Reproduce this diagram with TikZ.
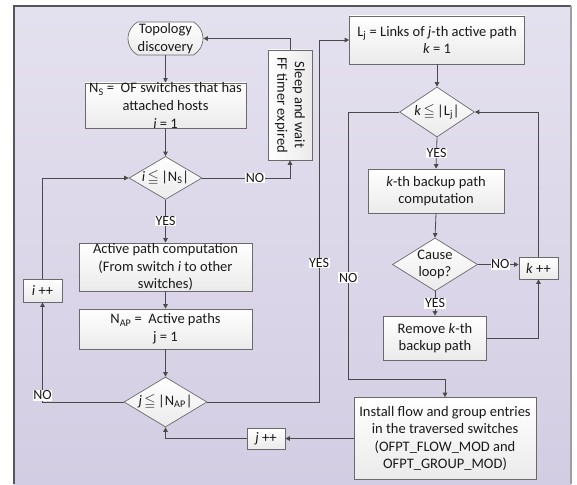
\documentclass[tikz,border=0pt]{standalone}
\usepackage{amssymb}
\usepackage{fontspec}
\setmainfont{Carlito}
\usetikzlibrary{arrows.meta,shapes.geometric,shapes.misc}
\definecolor{bgtop}{HTML}{E4E1EF}
\definecolor{bgbot}{HTML}{D3CDE3}
\definecolor{frameedge}{HTML}{55555C}
\definecolor{boxedge}{HTML}{6A6A6A}
\definecolor{wire}{HTML}{4A4A4A}
\definecolor{ink}{HTML}{1A1A1A}
\newcommand{\lesseq}{\,$\leqq$\,}
\begin{document}
\begin{tikzpicture}[x=1pt,y=-1pt,
  font=\fontsize{14.5}{17.6}\selectfont, text=ink,
  box/.style={draw=boxedge, line width=0.7pt, top color=white, bottom color=black!8,
    align=center, inner sep=0pt},
  dia/.style={diamond, draw=boxedge, line width=0.7pt, top color=white, bottom color=black!8,
    align=center, inner sep=0pt},
  arr/.style={draw=wire, line width=0.8pt, -{Triangle[length=4.5pt,width=4.5pt]}},
  lbl/.style={fill=white, inner sep=0.6pt, text=ink, font=\fontsize{14}{16}\selectfont}]
\useasboundingbox (0,0) rectangle (577,484);
% backdrop panel
\shade[top color=bgtop, bottom color=bgbot] (14,6) rectangle (571,484);
\draw[frameedge, line width=1.2pt] (14,484) -- (14,6) -- (571,6);
\draw[black!38, line width=1.6pt] (571,6) -- (571,484);

% left column
\node[rounded rectangle, rounded rectangle arc length=120, draw=boxedge, line width=0.7pt,
  top color=white, bottom color=black!8, align=center, inner ysep=0pt, inner xsep=-1pt,
  minimum width=73pt, minimum height=33pt]
  (topo) at (165.5,38.5) {Topology\\discovery};
\node[box, minimum width=161pt, minimum height=45pt] (ns) at (165.5,105.5)
  {N\textsubscript{S} =\ \ OF switches that has\\attached hosts\\\textit{i} = 1};
\node[dia, minimum width=73pt, minimum height=43pt, aspect=1.7] (di) at (165.5,178)
  {\textit{i}\lesseq|N\textsubscript{S}|};
\node[box, minimum width=173pt, minimum height=48pt] (act) at (165.5,267)
  {Active path computation\\(From switch \textit{i} to other\\switches)};
\node[box, minimum width=173pt, minimum height=40pt] (nap) at (165.5,329)
  {N\textsubscript{AP} =\ \ Active paths\\j = 1};
\node[dia, minimum width=83pt, minimum height=50pt, aspect=1.66] (dj) at (165.5,402)
  {\textit{j}\lesseq|N\textsubscript{AP}|};
\node[box, minimum width=39pt, minimum height=23pt] (ipp) at (42.5,290.5) {\textit{i} ++};
\node[box, minimum width=38pt, minimum height=21pt] (jpp) at (266,438.5) {\textit{j} ++};
\node[draw=boxedge, line width=0.7pt, left color=white, right color=black!8, align=center,
  inner sep=0pt, rotate=-90, minimum width=110pt, minimum height=44pt]
  (sleep) at (290,105) {Sleep and wait\\FF timer expired};

% right column
\node[box, minimum width=175pt, minimum height=48pt] (lj) at (437,40)
  {L\textsubscript{j} = Links of \textit{j}-th active path\\\textit{k} = 1};
\node[dia, minimum width=75pt, minimum height=50pt, aspect=1.5] (dk) at (437,112)
  {\textit{k}\lesseq|L\textsubscript{j}|};
\node[box, minimum width=136pt, minimum height=44pt] (kb) at (436,191)
  {\textit{k}-th backup path\\computation};
\node[dia, minimum width=85pt, minimum height=53pt, aspect=1.6] (dc) at (435,264.5)
  {Cause\\loop?};
\node[box, minimum width=39pt, minimum height=22pt] (kpp) at (538.5,268) {\textit{k} ++};
\node[box, minimum width=103pt, minimum height=44pt] (rm) at (435,338)
  {Remove \textit{k}-th\\backup path};
\node[box, minimum width=182pt, minimum height=82pt] (inst) at (445,438.5)
  {Install flow and group entries\\in the traversed switches\\(OFPT\_FLOW\_MOD and\\OFPT\_GROUP\_MOD)};

% connectors, left column
\draw[arr] (topo.south) -- (ns.north);
\draw[arr] (ns.south) -- (di.north);
\draw[arr] (di.south) -- node[lbl]{YES} (act.north);
\draw[arr] (act.south) -- (nap.north);
\draw[arr] (nap.south) -- (dj.north);
\draw[arr] (dj.west) -| node[lbl, anchor=south, pos=0.5, yshift=1pt]{NO} (ipp.south);
\draw[arr] (ipp.north) |- (di.west);
\draw[arr] (di.east) -| node[lbl, pos=0.30]{NO} (sleep.east);
\draw[arr] (sleep.west) |- (topo.east);
\draw[arr] (dj.east) -| node[lbl, pos=0.692]{YES} ([xshift=-30pt]lj.west) -- (lj.west);
\draw[arr] (jpp.west) -| (dj.south);

% connectors, right column
\draw[arr] (lj.south) -- (dk.north);
\draw[arr] (dk.south) -- node[lbl]{YES} (kb.north);
\draw[arr] (kb.south) -- (dc.north);
\draw[arr] (dc.south) -- node[lbl]{YES} (rm.north);
\draw[arr] (dc.east) -- node[lbl, pos=0.55]{NO} (dc.east -| kpp.west);
\draw[arr] (rm.east) -| (kpp.south);
\draw[arr] (kpp.north) |- (dk.east);
\draw[arr] (dk.west) -- ++(-51,0) -- node[lbl, pos=0.62]{NO} ++(0,267) -| (inst.north);
\draw[arr] (inst.west) -- (jpp.east);
\end{tikzpicture}
\end{document}
